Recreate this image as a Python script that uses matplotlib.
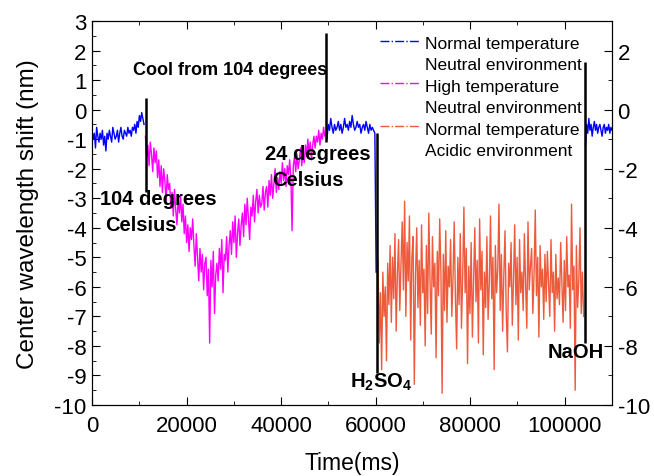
import numpy as np
import matplotlib
matplotlib.use('Agg')
import matplotlib.pyplot as plt
from matplotlib.lines import Line2D
from matplotlib.legend_handler import HandlerLine2D
from matplotlib.ticker import MultipleLocator

plt.rcParams['font.family'] = ['Liberation Sans', 'DejaVu Sans']
plt.rcParams['axes.unicode_minus'] = False
plt.rcParams['mathtext.fontset'] = 'custom'
plt.rcParams['mathtext.rm'] = 'Liberation Sans:bold'
plt.rcParams['mathtext.bf'] = 'Liberation Sans:bold'

# segment start / end times (ms)
blue1_t = [0, 11000]
magenta_t = [11300, 49500]
blue2_t = [49700, 60100]
orange_t = [60500, 104000]
blue3_t = [104400, 110000]

blue1 = [-0.7, -1.0, -0.8, -1.3, -0.6, -0.9, -1.1, -0.8, -1.0, -0.7, -1.2, -0.9, -1.4, -0.8,
         -1.0, -0.7, -0.9, -1.1, -0.6, -0.8, -1.0, -0.9, -0.7, -1.1, -0.8, -0.6, -0.9, -1.0,
         -0.7, -0.8, -0.9, -0.6, -0.8, -0.7, -0.9, -0.6, -0.7, -0.5, -0.8, -0.4, -0.6, -0.2,
         -0.4, -0.1, -0.3, -0.5]

magenta = [-0.9, -1.6, -1.2, -1.9, -1.1, -1.5, -2.1, -1.3, -1.8, -1.4,
           -2.3, -1.7, -2.6, -1.9, -2.8, -2.0, -2.4, -3.1, -2.2, -2.7,
           -2.5, -3.3, -2.8, -3.6, -2.7, -3.4, -3.9, -3.0, -3.5, -2.9,
           -3.8, -3.2, -4.2, -3.6, -4.5, -3.9, -4.8, -4.0, -4.4, -3.7,
           -4.6, -5.3, -4.2, -5.0, -5.8, -4.7, -5.5, -4.9, -6.1, -5.2,
           -5.0, -6.3, -5.4, -7.9, -5.1, -6.0, -4.8, -6.9, -5.6, -5.2,
           -5.8, -4.7, -5.4, -4.4, -6.2, -4.9, -5.1, -4.3, -5.5, -4.6,
           -4.1, -4.9, -3.8, -4.5, -3.6, -5.0, -4.2, -3.7, -4.6, -3.9,
           -3.5, -4.3, -3.2, -3.9, -3.0, -3.7, -4.4, -3.3, -3.6, -2.9,
           -3.8, -3.1, -2.7, -3.5, -2.9, -3.3, -3.2, -2.6, -3.4, -2.8,
           -2.6, -3.3, -2.4, -2.9, -2.2, -3.0, -2.5, -2.0, -2.8, -2.3,
           -2.7, -2.1, -2.5, -1.8, -2.4, -2.0, -2.6, -1.9, -2.2, -1.7,
           -2.3, -4.1, -1.9, -1.6, -2.1, -1.5, -2.0, -1.7, -1.3, -1.9,
           -1.4, -1.8, -1.2, -1.6, -1.0, -1.5, -1.1, -1.7, -1.2, -0.9,
           -1.3, -0.9, -1.1, -0.7, -1.2, -0.8, -1.0, -0.6, -0.9, -0.8]

blue2 = [-1.0, -0.5, -0.7, -0.3, -0.6, -0.8, -0.5, -0.7, -0.6, -0.4, -0.7, -0.5, -0.8, -0.6,
         -0.3, -0.6, -0.5, -0.7, -0.4, -0.6, -0.2, -0.5, -0.7, -0.6, -0.4, -0.6, -0.5, -0.8,
         -0.6, -0.5, -0.7, -0.4, -0.6, -0.8, -0.5, -0.7, -0.6, -0.7, -0.8, -5.5]

orange = [-5.1, -7.9, -6.2, -8.8, -5.5, -7.0, -6.0, -8.5, -5.2, -6.6,
          -4.6, -7.2, -5.0, -6.4, -4.2, -7.5, -5.6, -4.4, -6.8, -5.2,
          -3.8, -6.1, -3.1, -7.0, -4.5, -5.8, -3.6, -7.8, -5.0, -4.3,
          -9.3, -5.6, -4.0, -6.7, -5.1, -7.3, -3.9, -6.2, -5.4, -8.0,
          -4.6, -6.9, -3.5, -5.8, -7.6, -4.3, -6.0, -5.2, -8.4, -4.8,
          -6.3, -3.7, -5.5, -9.6, -4.9, -6.8, -4.1, -7.2, -5.3, -6.0,
          -4.4, -7.0, -5.7, -3.8, -6.4, -8.1, -5.0, -6.6, -4.2, -7.4,
          -5.6, -3.3, -6.2, -4.7, -8.6, -5.3, -6.9, -4.5, -7.7, -5.8,
          -4.0, -6.5, -5.1, -7.9, -3.7, -6.1, -4.8, -8.3, -5.5, -6.7,
          -4.3, -7.1, -5.9, -3.6, -6.4, -5.0, -8.8, -4.6, -6.2, -5.4,
          -3.2, -6.8, -4.9, -7.5, -5.6, -4.1, -6.9, -8.2, -5.2, -6.0,
          -4.5, -7.3, -5.8, -3.9, -6.6, -5.0, -7.8, -4.4, -6.2, -5.5,
          -6.8, -4.2, -5.9, -7.4, -3.8, -6.1, -5.3, -4.7, -6.9, -5.6,
          -3.4, -6.3, -5.0, -7.7, -4.6, -6.0, -5.4, -7.1, -4.9, -6.5,
          -4.8, -5.9, -7.0, -4.4, -6.2, -5.5, -7.5, -4.9, -6.4, -5.7,
          -6.6, -4.5, -5.8, -7.2, -5.1, -6.8, -4.3, -6.0, -5.6, -7.4,
          -3.2, -6.1, -5.3, -9.5, -4.6, -6.7, -5.8, -4.0, -6.9, -5.5, -7.0]

blue3 = [-1.2, -0.5, -0.8, -0.3, -0.7, -0.5, -0.9, -0.6, -0.4, -0.7, -0.5, -0.8, -0.6,
         -0.5, -0.7, -0.9, -0.6, -0.5, -0.8, -0.6, -0.7, -0.5, -0.8, -0.6, -0.7]

# black event markers
event_x = [11400, 49600, 60300, 104300]
event_top = [0.4, 2.6, -0.8, 1.6]
event_bottom = [-2.8, -1.1, -8.9, -7.9]

c_blue = '#0000ff'
c_mag = '#ff00ff'
c_orange = '#ee5a3c'


class TopLineHandler(HandlerLine2D):
    # put the legend line next to the first text line of a two-line label
    def create_artists(self, legend, orig_handle, xdescent, ydescent, width, height,
                       fontsize, trans):
        arts = super().create_artists(legend, orig_handle, xdescent, ydescent, width,
                                      height, fontsize, trans)
        for a in arts:
            a.set_ydata(np.asarray(a.get_ydata()) + 0.75 * fontsize)
        return arts


fig, ax = plt.subplots(figsize=(6.54, 4.77), dpi=100)
fig.subplots_adjust(left=0.1407, right=0.9358, top=0.9539, bottom=0.1488)

def seg(span, vals):
    return np.linspace(span[0], span[1], len(vals)), vals

for span, vals, col in [(blue1_t, blue1, c_blue), (magenta_t, magenta, c_mag),
                        (blue2_t, blue2, c_blue), (orange_t, orange, c_orange),
                        (blue3_t, blue3, c_blue)]:
    t, v = seg(span, vals)
    ax.plot(t, v, color=col, lw=1.0)

ax.vlines(event_x, event_bottom, event_top, color='black', lw=1.8, zorder=5)

ax.set_xlim(0, 110000)
ax.set_ylim(-10, 3)
ax.xaxis.set_major_locator(MultipleLocator(20000))
ax.xaxis.set_minor_locator(MultipleLocator(10000))
ax.yaxis.set_major_locator(MultipleLocator(1))
ax.yaxis.set_minor_locator(MultipleLocator(0.5))
ax.tick_params(which='both', direction='in', top=True, labelsize=16)
ax.tick_params(which='major', length=6, pad=4)
ax.tick_params(axis='x', pad=7)
ax.tick_params(which='minor', length=3)
ax.set_xlabel('Time(ms)', fontsize=16.5, labelpad=11)
ax.set_ylabel('Center wavelength shift (nm)', fontsize=17.5, labelpad=11)

ax2 = ax.twinx()
ax2.set_ylim(-10, 3)
ax2.yaxis.set_major_locator(MultipleLocator(2))
ax2.yaxis.set_minor_locator(MultipleLocator(1))
ax2.tick_params(which='both', direction='in', labelsize=16)
ax2.tick_params(which='major', length=6, pad=4)
ax2.tick_params(which='minor', length=3)

bold = dict(fontsize=14.5, fontweight='bold', va='center')
ax.text(8700, 1.37, 'Cool from 104 degrees', fontsize=13, fontweight='bold', va='center')
ax.text(1700, -3.0, '104 degrees', **bold)
ax.text(2750, -3.9, 'Celsius', **bold)
ax.text(36600, -1.5, '24 degrees', **bold)
ax.text(38100, -2.35, 'Celsius', **bold)
ax.text(54600, -9.2, r'H$_\mathbf{2}$SO$_\mathbf{4}$', **bold)
ax.text(96400, -8.2, 'NaOH', **bold)

handles = [Line2D([], [], color=c_blue, ls='-.', lw=1),
           Line2D([], [], color=c_mag, ls='-.', lw=1),
           Line2D([], [], color=c_orange, ls='-.', lw=1)]
labels = ['Normal temperature\nNeutral environment',
          'High temperature\nNeutral environment',
          'Normal temperature\nAcidic environment']
leg = ax.legend(handles, labels, loc='upper left', bbox_to_anchor=(0.54, 0.98),
                frameon=False, fontsize=12.5, handlelength=2.3, handletextpad=0.3,
                labelspacing=0.4, borderaxespad=0,
                handler_map={Line2D: TopLineHandler()})
for txt in leg.get_texts():
    txt.set_linespacing(1.5)

fig.savefig('out.png', dpi=100)
